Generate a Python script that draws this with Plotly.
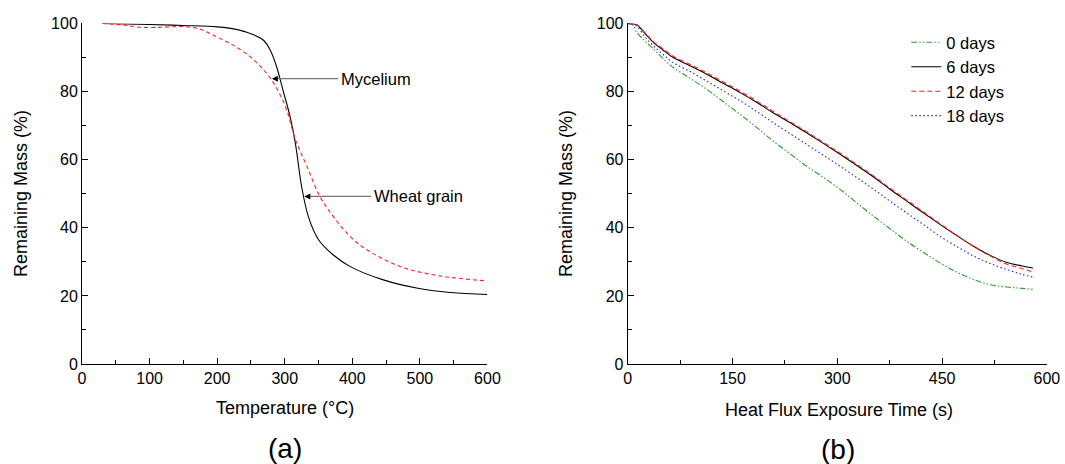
import plotly.graph_objects as go

# Panel (a): TGA curves
temp_wheat = [30, 100, 150, 200, 230, 255, 269, 279, 288, 298, 308, 316, 325, 335, 350, 372, 397, 446, 495, 545, 600]
mass_wheat = [100, 99.7, 99.4, 99.0, 98.2, 96.6, 95.0, 92.0, 87.3, 80.0, 72.6, 64.5, 52.1, 43.3, 36.5, 32.0, 28.6, 24.7, 22.3, 21.0, 20.4]
temp_myc = [30, 60, 86, 120, 150, 175, 200, 225, 249, 265, 279, 292, 303, 316, 333, 352, 372, 397, 422, 471, 520, 560, 600]
mass_myc = [100, 99.6, 98.9, 98.9, 99.1, 98.3, 96.0, 93.5, 90.2, 87.2, 83.9, 79.5, 74.6, 65.8, 58.0, 49.2, 43.3, 37.4, 33.5, 28.6, 26.2, 25.1, 24.4]

# Panel (b): mass loss vs exposure time
time_s = [0, 7, 13, 25, 37, 50, 65, 90, 113, 137, 161, 185, 208, 232, 256, 280, 304, 328, 352, 375, 399, 423, 447, 471, 495, 519, 543, 565, 580]
m_0d = [100, 99.6, 97.4, 94.8, 92.5, 89.8, 87.1, 83.8, 80.7, 77.0, 73.3, 69.4, 65.5, 61.8, 58.1, 54.8, 51.3, 47.3, 43.4, 39.8, 36.1, 32.8, 29.7, 27.0, 24.8, 23.3, 22.6, 22.2, 21.9]
m_6d = [100, 99.9, 99.6, 97.0, 94.4, 92.3, 90.0, 87.5, 85.1, 82.4, 79.7, 76.8, 73.8, 70.9, 67.9, 64.8, 61.6, 58.3, 54.9, 51.4, 47.9, 44.4, 41.0, 37.7, 34.6, 31.9, 29.8, 28.8, 28.2]
m_12d = [100, 99.9, 99.6, 97.2, 94.6, 92.6, 90.4, 87.9, 85.5, 82.8, 80.1, 77.2, 74.2, 71.2, 68.2, 65.1, 61.9, 58.6, 55.2, 51.7, 48.2, 44.7, 41.2, 37.8, 34.5, 31.7, 29.3, 28.0, 27.0]
m_18d = [100, 99.8, 99.2, 96.0, 93.4, 91.0, 88.5, 85.8, 83.1, 80.2, 77.3, 74.1, 70.9, 67.7, 64.5, 61.3, 58.1, 54.7, 51.3, 47.9, 44.4, 41.0, 37.5, 34.5, 31.7, 29.5, 27.7, 26.3, 25.5]

legend_names = ["0 days", "6 days", "12 days", "18 days"]

FONT = "Liberation Sans, Arial, sans-serif"
TICK = 16
TITLE = 18
W, H = 1065, 464

fig = go.Figure()
fig.add_trace(go.Scatter(x=temp_wheat, y=mass_wheat, mode="lines", line=dict(color="black", width=1.1, shape="spline"),
                         showlegend=False, xaxis="x", yaxis="y"))
fig.add_trace(go.Scatter(x=temp_myc, y=mass_myc, mode="lines", line=dict(color="#ff2020", width=1.1, dash="4px,3px", shape="spline"),
                         showlegend=False, xaxis="x", yaxis="y"))

styles = [("#2e9a2e", "6px,2px,1.5px,2px,1.5px,2px"), ("black", "solid"), ("#ff2020", "5px,3px"), ("#2020ff", "1.5px,2.5px")]
for name, ys, (col, dash) in zip(legend_names, [m_0d, m_6d, m_12d, m_18d], styles):
    fig.add_trace(go.Scatter(x=time_s, y=ys, mode="lines", name=name,
                             line=dict(color=col, width=1.1, dash=dash, shape="spline"),
                             xaxis="x2", yaxis="y2"))

axis_common = dict(showline=True, linecolor="black", linewidth=1, showgrid=False, zeroline=False,
                   ticks="inside", ticklen=6, tickcolor="black", tickwidth=1, automargin=False,
                   tickfont=dict(family=FONT, size=TICK, color="black"), mirror=False)

fig.update_layout(
    width=W, height=H,
    margin=dict(l=0, r=0, t=0, b=0),
    paper_bgcolor="white", plot_bgcolor="white",
    font=dict(family=FONT, color="black"),
    xaxis=dict(domain=[0.077, 0.4577], range=[0, 600], dtick=100, anchor="y",
               minor=dict(ticks="inside", ticklen=4, dtick=50, tickcolor="black"), **axis_common),
    yaxis=dict(domain=[0.2155, 0.9494], range=[0, 100], dtick=20, anchor="x",
               minor=dict(ticks="inside", ticklen=4, dtick=10, tickcolor="black"), **axis_common),
    xaxis2=dict(domain=[0.5894, 0.983], range=[0, 600], dtick=150, anchor="y2",
                minor=dict(ticks="inside", ticklen=4, dtick=75, tickcolor="black"), **axis_common),
    yaxis2=dict(domain=[0.2155, 0.9494], range=[0, 100], dtick=20, anchor="x2",
                minor=dict(ticks="inside", ticklen=4, dtick=10, tickcolor="black"), **axis_common),
    legend=dict(x=0.851, y=0.946, xanchor="left", yanchor="top", bgcolor="rgba(0,0,0,0)",
                font=dict(family=FONT, size=16.5, color="black"), tracegroupgap=0, itemwidth=30),
)

# Axis titles (placed as paper annotations)
def paper_text(px, py, text, size, angle=0):
    fig.add_annotation(x=px / W, y=1 - py / H, xref="paper", yref="paper", text=text, showarrow=False,
                       xanchor="center", yanchor="middle", textangle=angle,
                       font=dict(family=FONT, size=size, color="black"))

paper_text(285, 408, "Temperature (°C)", TITLE)
paper_text(839, 410, "Heat Flux Exposure Time (s)", TITLE)
paper_text(21, 194, "Remaining Mass (%)", TITLE, -90)
paper_text(566, 194, "Remaining Mass (%)", TITLE, -90)
paper_text(285, 448, "(a)", 28)
paper_text(838, 449, "(b)", 28)

# Annotation arrows in panel (a)
fig.add_shape(type="line", x0=290, x1=379, y0=83.8, y1=83.8, xref="x", yref="y", line=dict(color="#777777", width=1.2))
fig.add_shape(type="line", x0=338, x1=428, y0=49.2, y1=49.2, xref="x", yref="y", line=dict(color="#777777", width=1.2))
for hx, tx, yy in [(281, 292, 83.8), (329, 340, 49.2)]:
    fig.add_annotation(x=hx, y=yy, ax=tx, ay=yy, xref="x", yref="y", axref="x", ayref="y",
                       text="", showarrow=True, arrowhead=2, arrowsize=1, arrowwidth=1.2, arrowcolor="black")
fig.add_annotation(x=380, y=83.8, xref="x", yref="y", text="Mycelium", showarrow=False, xanchor="left",
                   font=dict(family=FONT, size=16.5, color="black"))
fig.add_annotation(x=429, y=49.2, xref="x", yref="y", text="Wheat grain", showarrow=False, xanchor="left",
                   font=dict(family=FONT, size=16.5, color="black"))

fig.write_html("out.html")
